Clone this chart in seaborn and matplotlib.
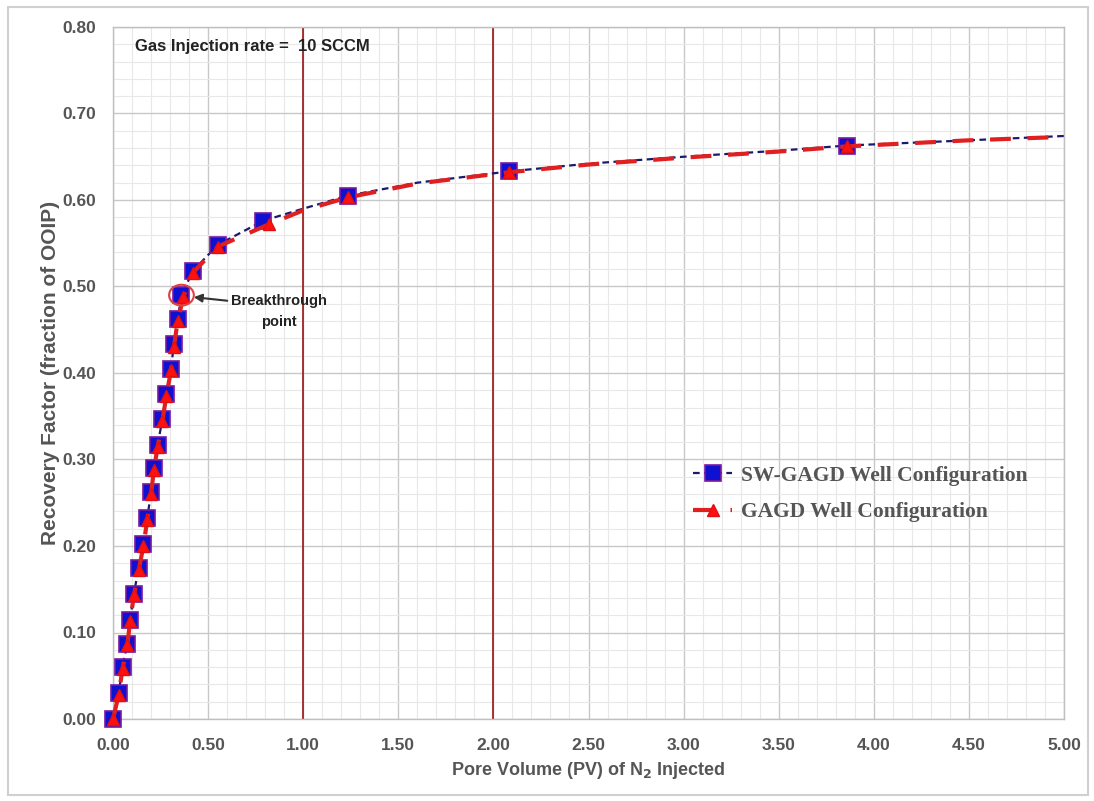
import matplotlib
matplotlib.use("Agg")
import matplotlib.pyplot as plt
from matplotlib.ticker import MultipleLocator, FormatStrFormatter
from matplotlib.patches import Ellipse, Rectangle
import seaborn as sns
import pandas as pd
import numpy as np

# Data
pv_sw = [0.00, 0.03, 0.05, 0.075, 0.09, 0.11, 0.135, 0.16, 0.18, 0.20, 0.215, 0.235,
         0.26, 0.28, 0.305, 0.32, 0.34, 0.36, 0.42, 0.55, 0.79, 1.0, 1.235, 1.6, 2.08,
         2.5, 3.0, 3.5, 3.86, 4.5, 5.0]
rf_sw = [0.000, 0.030, 0.060, 0.087, 0.115, 0.145, 0.175, 0.202, 0.232, 0.262, 0.290, 0.317,
         0.347, 0.376, 0.405, 0.433, 0.462, 0.490, 0.518, 0.548, 0.576, 0.590, 0.605, 0.620, 0.633,
         0.642, 0.650, 0.657, 0.663, 0.669, 0.674]
mark_sw = [0, 1, 2, 3, 4, 5, 6, 7, 8, 9, 10, 11, 12, 13, 14, 15, 16, 17, 18, 19, 20, 22, 24, 28]

pv_gagd = [0.00, 0.03, 0.05, 0.075, 0.09, 0.11, 0.135, 0.16, 0.18, 0.20, 0.215, 0.235,
           0.26, 0.28, 0.305, 0.32, 0.34, 0.37, 0.42, 0.55, 0.82, 1.0, 1.235, 1.6, 2.08,
           2.5, 3.0, 3.5, 3.86, 4.5, 5.0]
rf_gagd = [0.000, 0.028, 0.058, 0.085, 0.113, 0.143, 0.172, 0.200, 0.230, 0.260, 0.288, 0.315,
           0.345, 0.373, 0.403, 0.430, 0.460, 0.488, 0.516, 0.546, 0.572, 0.588, 0.603, 0.619, 0.632,
           0.641, 0.649, 0.656, 0.662, 0.669, 0.673]
mark_gagd = mark_sw

series_names = ["SW-GAGD Well Configuration", "GAGD Well Configuration"]
breakthrough = (0.36, 0.49)
vlines_x = [1.0, 2.0]

sns.set_style("white")
plt.rcParams['font.family'] = ['Liberation Sans', 'DejaVu Sans']

fig = plt.figure(figsize=(10.94, 8.01), dpi=100)
ax = fig.add_axes([113/1094, 1-719/801, (1064-113)/1094, (719-27)/801])

grey = "#555555"

ax.set_xlim(0, 5)
ax.set_ylim(0, 0.8)
ax.xaxis.set_major_locator(MultipleLocator(0.5))
ax.xaxis.set_minor_locator(MultipleLocator(0.1))
ax.yaxis.set_major_locator(MultipleLocator(0.1))
ax.yaxis.set_minor_locator(MultipleLocator(0.02))
ax.xaxis.set_major_formatter(FormatStrFormatter('%.2f'))
ax.yaxis.set_major_formatter(FormatStrFormatter('%.2f'))
ax.grid(which='major', color='#c8c8c8', lw=1.0)
ax.grid(which='minor', color='#e8e8e8', lw=0.8)
ax.set_axisbelow(True)

for v in vlines_x:
    ax.axvline(v, color='#9c1515', lw=1.2, zorder=2)

df1 = pd.DataFrame({"x": pv_sw, "y": rf_sw})
df2 = pd.DataFrame({"x": pv_gagd, "y": rf_gagd})

sns.lineplot(data=df1, x="x", y="y", ax=ax, sort=False, color='#1a1a6e', lw=1.6,
             linestyle=(0, (3, 2)), marker='s', markersize=11.5, markevery=mark_sw,
             markerfacecolor='#1010d0', markeredgecolor='#7a1aa0', markeredgewidth=1.2,
             label=series_names[0], zorder=4, clip_on=False)
sns.lineplot(data=df2, x="x", y="y", ax=ax, sort=False, color='#e02020', lw=3.0,
             linestyle=(0, (5, 4)), marker='^', markersize=8, markevery=mark_gagd,
             markerfacecolor='#ff1010', markeredgecolor='#e01010', markeredgewidth=1.0,
             label=series_names[1], zorder=5, clip_on=False)

# breakthrough circle
ax.add_patch(Ellipse(breakthrough, width=0.13, height=0.024, fill=False,
                     edgecolor='#e04040', lw=1.5, zorder=6))
ax.annotate("Breakthrough\npoint", xy=(0.41, 0.488), xytext=(0.87, 0.471),
            ha='center', va='center', fontsize=10.5, fontweight='bold', color='#222222',
            linespacing=1.7,
            arrowprops=dict(arrowstyle='-|>', color='#333333', lw=1.5, mutation_scale=12,
                            shrinkA=0, relpos=(0.05, 0.78)))

ax.text(0.115, 0.777, "Gas Injection rate =  10 SCCM", fontsize=12, fontweight='bold',
        color='#222222', va='center', ha='left')

ax.tick_params(axis='both', which='both', length=0, labelsize=12.5, labelcolor=grey)
ax.tick_params(axis='y', pad=12)
ax.tick_params(axis='x', pad=14)
for lab in ax.get_xticklabels() + ax.get_yticklabels():
    lab.set_fontweight('bold')
for s in ax.spines.values():
    s.set_color('#bfbfbf')
    s.set_linewidth(1.0)

ax.set_xlabel("Pore Volume (PV) of N$_\\mathbf{2}$ Injected", fontsize=13, fontweight='bold',
              color=grey, labelpad=5)
ax.set_ylabel("Recovery Factor (fraction of OOIP)", fontsize=15, fontweight='bold',
              color=grey, labelpad=2)

leg = ax.legend(loc='center left', bbox_to_anchor=(0.59, 0.325), frameon=False,
                prop={'family': 'Liberation Serif', 'weight': 'bold', 'size': 15.5},
                handlelength=1.8, handletextpad=0.4, labelspacing=0.75)
for t in leg.get_texts():
    t.set_color(grey)

fig.patches.append(Rectangle((8/1094, 6/801), 1080/1094, 788/801, transform=fig.transFigure,
                             fill=False, edgecolor='#d0d0d0', lw=1.5))

fig.savefig("out.png", dpi=100)
